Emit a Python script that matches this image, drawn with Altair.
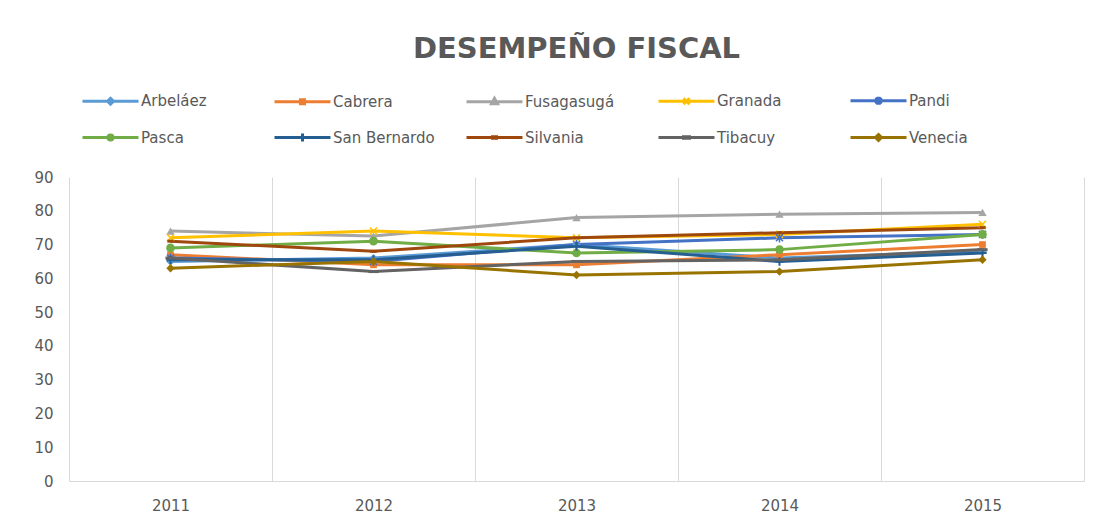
import altair as alt
import pandas as pd

years = [2011, 2012, 2013, 2014, 2015]
series = ["Arbeláez", "Cabrera", "Fusagasugá", "Granada", "Pandi",
          "Pasca", "San Bernardo", "Silvania", "Tibacuy", "Venecia"]

arbelaez = [65, 66, 70, 66, 68]
cabrera = [67, 64, 64, 67, 70]
fusagasuga = [74, 72.5, 78, 79, 79.5]
granada = [72, 74, 72, 73, 76]
pandi = [66, 65, 70, 72, 73]
pasca = [69, 71, 67.5, 68.5, 73]
san_bernardo = [65.5, 65.5, 69.5, 65, 67.5]
silvania = [71, 68, 72, 73.5, 75]
tibacuy = [66, 62, 65, 65.5, 68.5]
venecia = [63, 65, 61, 62, 65.5]

values = [arbelaez, cabrera, fusagasuga, granada, pandi,
          pasca, san_bernardo, silvania, tibacuy, venecia]

colors = ["#5B9BD5", "#ED7D31", "#A5A5A5", "#FFC000", "#4472C4",
          "#70AD47", "#255E91", "#9E480E", "#636363", "#997300"]

y_ticks = [0, 10, 20, 30, 40, 50, 60, 70, 80, 90]
x_grid = [2010.5, 2011.5, 2012.5, 2013.5, 2014.5, 2015.5]

rows = []
for s, vals in zip(series, values):
    for yr, v in zip(years, vals):
        rows.append({"anio": yr, "valor": v, "serie": s})
df = pd.DataFrame(rows)

# marker styles for the plot (shape, filled, size, strokeWidth)
markers = [
    ("diamond", True, 70, 1),
    ("square", True, 45, 1),
    ("triangle-up", True, 70, 1),
    ("M-1,-1L1,1M-1,1L1,-1", False, 50, 1.5),
    ("M-1,-1L1,1M-1,1L1,-1M0,-1.3V1.3", False, 50, 1.5),
    ("circle", True, 75, 1),
    ("M-1,0H1M0,-1V1", False, 70, 2),
    ("M-1,0H1", False, 40, 3),
    ("M-1.6,0H1.6", False, 40, 3),
    ("diamond", True, 70, 1),
]

L = "M-1.4,0H4.2"
legend_paths = [
    L + "M1.4,-0.3L1.7,0L1.4,0.3L1.1,0Z",
    L + "M1.2,-0.2H1.6V0.2H1.2Z",
    L + "M1.4,-0.32L1.7,0.22L1.1,0.22Z",
    L + "M1.1,-0.3L1.7,0.3M1.1,0.3L1.7,-0.3",
    L + "M1.1,-0.3L1.7,0.3M1.1,0.3L1.7,-0.3M1.4,-0.4V0.4",
    L + "M1.65,0A0.25,0.25,0,1,1,1.15,0A0.25,0.25,0,1,1,1.65,0Z",
    L + "M1.4,-0.4V0.4",
    L + "M1.2,-0.08H1.6V0.08H1.2Z",
    L + "M1.1,-0.08H1.7V0.08H1.1Z",
    L + "M1.4,-0.3L1.7,0L1.4,0.3L1.1,0Z",
]

TXT = "#595959"
GRID = "#d9d9d9"

color_scale = alt.Scale(domain=series, range=colors)
x_scale = alt.Scale(domain=[2010.5, 2015.5], nice=False, zero=False)

x_bottom = alt.X("anio:Q", scale=x_scale, axis=alt.Axis(
    values=years, format="d", title=None, grid=False, ticks=False,
    domainColor=GRID, labelColor=TXT, labelFontSize=15, labelPadding=17,
    labelFont="DejaVu Sans", labelFlush=False, labelOverlap=False))
x_gridaxis = alt.X("anio:Q", scale=x_scale, axis=alt.Axis(
    orient="top", values=x_grid, title=None, grid=True, gridColor=GRID,
    labels=False, ticks=False, domain=False))
x_none = alt.X("anio:Q", scale=x_scale, axis=None)

y_enc = alt.Y(
    "valor:Q",
    scale=alt.Scale(domain=[0, 90], nice=False),
    axis=alt.Axis(values=y_ticks, title=None, grid=False, domain=False, ticks=False,
                  labelColor=TXT, labelFontSize=15, labelPadding=16,
                  labelFont="DejaVu Sans"),
)

base = alt.Chart(df)

leg = alt.Legend(
    title=None, orient="none", legendX=16, legendY=-88, direction="horizontal",
    columns=5, gridAlign="all", columnPadding=25, rowPadding=15,
    symbolSize=400, symbolStrokeWidth=3, labelOffset=33,
    labelFontSize=15, labelColor=TXT, labelFont="DejaVu Sans", padding=0,
)

legend_layer = base.transform_filter("false").mark_point(filled=True, opacity=1).encode(
    x=x_none, y=y_enc,
    color=alt.Color("serie:N", scale=color_scale, legend=leg),
    stroke=alt.Stroke("serie:N", scale=color_scale, legend=leg),
    shape=alt.Shape("serie:N", scale=alt.Scale(domain=series, range=legend_paths), legend=leg),
)

grid_layer = base.transform_filter("false").mark_point(opacity=0).encode(
    x=x_gridaxis, y=y_enc,
)

lines = base.mark_line(strokeWidth=3).encode(
    x=x_bottom, y=y_enc,
    color=alt.Color("serie:N", scale=color_scale, legend=None),
    detail="serie:N",
)

point_layers = []
for s, (shape, filled, size, sw) in zip(series, markers):
    point_layers.append(
        base.transform_filter(alt.datum.serie == s)
        .mark_point(shape=shape, filled=filled, size=size, strokeWidth=sw, opacity=1)
        .encode(x=x_none, y=y_enc,
                color=alt.Color("serie:N", scale=color_scale, legend=None))
    )

chart = alt.layer(legend_layer, grid_layer, lines, *point_layers).resolve_axis(
    x="independent"
).properties(
    width=1015, height=304,
    padding={"left": 25, "top": 27, "right": 5, "bottom": 0},
    title=alt.TitleParams("DESEMPEÑO FISCAL", fontSize=29, fontWeight="bold",
                          color=TXT, font="DejaVu Sans", offset=25, anchor="middle"),
).configure_view(stroke=None)

chart.save("out.html", embed_options={"renderer": "svg", "actions": False})
